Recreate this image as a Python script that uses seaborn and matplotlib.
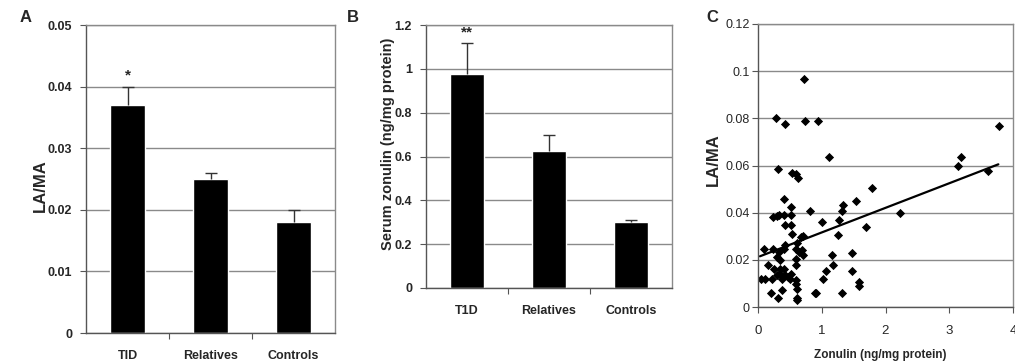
import numpy as np
import pandas as pd
import matplotlib
matplotlib.use("Agg")
import matplotlib.pyplot as plt
import seaborn as sns

# ---- data ----
groups_a = ["TID", "Relatives", "Controls"]
lama_mean = [0.037, 0.025, 0.018]
lama_err = [0.003, 0.001, 0.002]

groups_b = ["T1D", "Relatives", "Controls"]
zonulin_mean = [0.975, 0.625, 0.300]
zonulin_err = [0.145, 0.075, 0.008]

scatter_x = [0.72, 0.28, 0.43, 0.73, 0.94, 1.11, 0.32, 0.54, 0.60, 0.63,
             3.14, 3.19, 3.61, 3.78, 1.79, 2.23, 0.40, 0.81, 0.51, 0.24,
             0.30, 0.33, 0.41, 0.51, 0.42, 0.51, 0.54, 1.01, 1.33, 1.32,
             1.27, 1.25, 1.54, 1.69, 1.16, 1.17, 1.07, 1.02, 1.47, 1.48,
             1.59, 1.59, 1.31, 0.89, 0.91, 0.09, 0.04, 0.11, 0.16, 0.22,
             0.20, 0.31, 0.38, 0.24, 0.30, 0.33, 0.34, 0.35, 0.38, 0.41,
             0.43, 0.41, 0.43, 0.47, 0.50, 0.30, 0.25, 0.35, 0.60, 0.61,
             0.67, 0.71, 0.64, 0.69, 0.71, 0.59, 0.60, 0.59, 0.60, 0.61,
             0.61, 0.61, 0.51]
scatter_y = [0.0967, 0.080, 0.0777, 0.0788, 0.0788, 0.0636, 0.0586, 0.057, 0.0565, 0.0548,
             0.060, 0.0637, 0.0576, 0.0768, 0.0506, 0.0398, 0.0459, 0.0408, 0.0424, 0.0381,
             0.0384, 0.0388, 0.0388, 0.0388, 0.0349, 0.0349, 0.0308, 0.036, 0.0434, 0.0407,
             0.0367, 0.0306, 0.0448, 0.0339, 0.0222, 0.0179, 0.0151, 0.0119, 0.023, 0.0151,
             0.0106, 0.0089, 0.0061, 0.0061, 0.006, 0.0247, 0.0117, 0.0117, 0.018, 0.0117,
             0.006, 0.0038, 0.007, 0.0247, 0.0212, 0.0233, 0.0162, 0.0141, 0.012, 0.0247,
             0.0261, 0.0162, 0.0134, 0.0127, 0.012, 0.0134, 0.0162, 0.0198, 0.0244, 0.0273,
             0.0297, 0.0301, 0.0233, 0.024, 0.0222, 0.0205, 0.0177, 0.0113, 0.0096, 0.0078,
             0.0038, 0.0031, 0.0141]
trend_x = [0.03, 3.77]
trend_y = [0.0215, 0.0605]

# ---- style ----
sns.set_style("white")
plt.rcParams["font.family"] = ["Liberation Sans", "DejaVu Sans"]

W, H = 1015, 361
fig = plt.figure(figsize=(W / 100, H / 100), dpi=100)

def box(l, t, r, b):
    return [l / W, 1 - b / H, (r - l) / W, (b - t) / H]

grid_col = "#8a8a8a"
frame_col = "#8a8a8a"
tick_fs = 9

def style_axes(ax, bold=True, fs=tick_fs, pad=6):
    for s in ax.spines.values():
        s.set_color(frame_col)
        s.set_linewidth(1.0)
    ax.spines["left"].set_color("#555555")
    ax.spines["bottom"].set_color("#555555")
    ax.yaxis.grid(True, color=grid_col, linewidth=1.0)
    ax.xaxis.grid(False)
    ax.set_axisbelow(True)
    ax.tick_params(axis="y", direction="out", length=4, width=0.8, color="#555555",
                   labelsize=fs, pad=pad, left=True)
    for lab in ax.get_yticklabels():
        lab.set_fontweight("bold" if bold else "normal")

def place_ylabel(ax, xc, yc):
    ax.yaxis.set_label_coords(xc, yc)
    ax.yaxis.label.set_va("center")

def bar_panel(ax, cats, means, errs, ylim, yticks, yticklabels, ylabel, ylabel_fs,
              star, star_y):
    df = pd.DataFrame({"group": cats, "value": means})
    sns.barplot(data=df, x="group", y="value", color="black", width=0.41,
                errorbar=None, ax=ax, saturation=1)
    _, caps, _ = ax.errorbar(np.arange(len(cats)), means,
                             yerr=[np.zeros(len(errs)), errs],
                             fmt="none", ecolor="#333333", elinewidth=1.0,
                             capsize=4, capthick=1.0)
    caps[0].remove()  # keep only the upper cap
    ax.set_xlim(-0.5, len(cats) - 0.5)
    ax.set_ylim(*ylim)
    ax.set_yticks(yticks)
    ax.set_yticklabels(yticklabels)
    ax.set_xlabel("")
    ax.set_ylabel(ylabel, fontsize=ylabel_fs, fontweight="bold")
    style_axes(ax)
    # Excel-style x ticks at category boundaries
    ax.set_xticks([0.5, 1.5], minor=True)
    ax.tick_params(axis="x", which="minor", direction="out", length=4, width=0.8,
                   color="#555555", bottom=True)
    ax.tick_params(axis="x", which="major", length=0, labelsize=tick_fs, pad=12)
    for lab in ax.get_xticklabels():
        lab.set_fontweight("bold")
    ax.text(0, star_y, star, ha="center", va="center", fontsize=11, fontweight="bold")

# Panel A
axA = fig.add_axes(box(86, 25, 335, 333))
bar_panel(axA, groups_a, lama_mean, lama_err, (0, 0.05),
          [0, 0.01, 0.02, 0.03, 0.04, 0.05],
          ["0", "0.01", "0.02", "0.03", "0.04", "0.05"],
          "LA/MA", 12, "*", 0.0418)
place_ylabel(axA, -0.185, 0.477)

# Panel B
axB = fig.add_axes(box(426, 25, 672, 288))
bar_panel(axB, groups_b, zonulin_mean, zonulin_err, (0, 1.2),
          [0, 0.2, 0.4, 0.6, 0.8, 1.0, 1.2],
          ["0", "0.2", "0.4", "0.6", "0.8", "1", "1.2"],
          "Serum zonulin (ng/mg protein)", 10.5, "**", 1.165)
place_ylabel(axB, -0.154, 0.55)

# Panel C
axC = fig.add_axes(box(758, 24, 1013, 307))
dfc = pd.DataFrame({"x": scatter_x, "y": scatter_y})
sns.scatterplot(data=dfc, x="x", y="y", marker="D", s=22, color="black",
                edgecolor="black", linewidth=0, ax=axC)
sns.lineplot(x=trend_x, y=trend_y, color="black", linewidth=1.6, ax=axC)
axC.set_xlim(0, 4)
axC.set_ylim(0, 0.12)
axC.set_xticks([0, 1, 2, 3, 4])
axC.set_xticklabels(["0", "1", "2", "3", "4"])
axC.set_yticks([0, 0.02, 0.04, 0.06, 0.08, 0.1, 0.12])
axC.set_yticklabels(["0", "0.02", "0.04", "0.06", "0.08", "0.1", "0.12"])
axC.set_xlabel("Zonulin (ng/mg protein)", fontsize=8.5, fontweight="bold")
axC.xaxis.set_label_coords(0.478, -0.168)
axC.xaxis.label.set_va("center")
axC.set_ylabel("LA/MA", fontsize=12, fontweight="bold")
place_ylabel(axC, -0.175, 0.52)
style_axes(axC, bold=False, fs=9, pad=2)
axC.tick_params(axis="x", direction="out", length=4, width=0.8, color="#555555",
                labelsize=9.5, pad=9, bottom=True)

# Panel letters
fig.text(20 / W, 1 - 18 / H, "A", fontsize=12, fontweight="bold", ha="left", va="center")
fig.text(347 / W, 1 - 18 / H, "B", fontsize=12, fontweight="bold", ha="left", va="center")
fig.text(706 / W, 1 - 18 / H, "C", fontsize=12, fontweight="bold", ha="left", va="center")

fig.savefig("out.png", dpi=100, facecolor="white")
